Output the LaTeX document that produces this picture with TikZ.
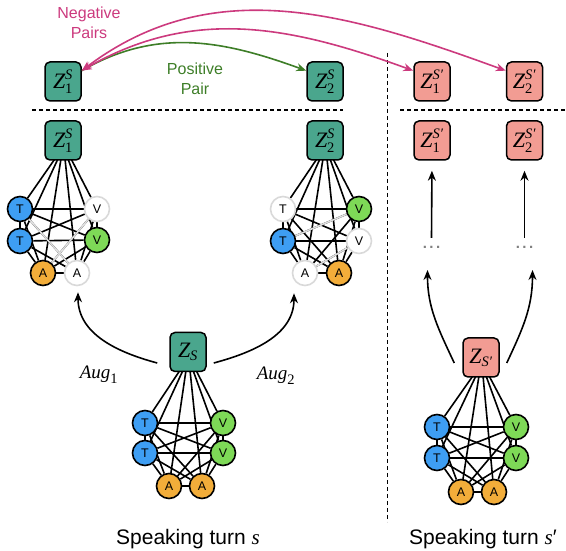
\documentclass[tikz,border=0pt]{standalone}
\usepackage{fontspec}
\setmainfont{Liberation Sans}
\newfontfamily\tms{Liberation Serif}
\usetikzlibrary{arrows.meta,calc}
\pgfdeclarelayer{bg}
\pgfsetlayers{bg,main}
\definecolor{zteal}{HTML}{4AA68D}
\definecolor{zsalmon}{HTML}{F29C93}
\definecolor{nblue}{HTML}{3E9EF3}
\definecolor{ngreen}{HTML}{7ED957}
\definecolor{norange}{HTML}{F2AD3A}
\definecolor{negcol}{HTML}{CC3A7E}
\definecolor{poscol}{HTML}{3E7E28}
\newcommand\tbig[1]{\mbox{\tms\itshape #1}}
\newcommand\tscr[1]{\mbox{\tms\fontsize{14.5}{14.5}\selectfont #1}}
\newcommand\tscri[1]{\mbox{\tms\fontsize{14.5}{14.5}\selectfont\itshape #1}}
\newcommand\zlab[2]{$\tbig{Z}^{\tscri{#1}}_{\tscr{#2}}$}
\newcommand\mygraphedges[2]{%
  \foreach \p/\q in {1/2,1/3,1/4,1/5,1/6,2/3,2/4,2/5,2/6,3/4,3/5,3/6,4/5,4/6,5/6}
    \draw[edge] (#1\p) -- (#1\q);
  \foreach \i/\dx in {1/-8,2/-5,5/-2,6/2,4/5,3/8}
    \draw[edge] ($(#2.south)+(\dx,2)$) -- (#1\i);
}
\begin{document}
\begin{tikzpicture}[x=1pt,y=1pt,
  zbox/.style={draw=black, line width=1.5pt, rounded corners=5pt, minimum width=36pt,
    minimum height=39pt, inner sep=0pt, font=\fontsize{22}{24}\selectfont},
  sbox/.style={zbox, fill=zteal},
  pbox/.style={zbox, fill=zsalmon},
  mnode/.style={circle, draw=black, line width=1.6pt, minimum size=25pt, inner sep=0pt,
    font=\fontsize{12.5}{13}\selectfont},
  tn/.style={mnode, fill=nblue},
  vn/.style={mnode, fill=ngreen},
  an/.style={mnode, fill=norange},
  wn/.style={mnode, draw=gray!30, fill=white},
  edge/.style={line width=1.6pt, black},
  gedge/.style={line width=1.6pt, gray!25},
  arr/.style={line width=1.6pt, -{Stealth[length=10pt,width=8pt]}},
  darr/.style={line width=1.6pt, {Stealth[length=10pt,width=8pt]}-{Stealth[length=10pt,width=8pt]}},
  sep/.style={line width=1.8pt, dash pattern=on 4pt off 3pt},
  dots/.style={text=gray, inner sep=0pt, font=\fontsize{15}{15}\selectfont\bfseries}
]
\useasboundingbox (0,0) rectangle (566,551);

% separators
\draw[sep] (32,441) -- (343,441);
\draw[sep] (400,441) -- (565,441);
\draw[sep] (387.5,498) -- (387.5,29);

% top row
\node[sbox] (zt1) at (63,469.5) {\zlab{S}{1}};
\node[sbox] (zt2) at (325,469.5) {\zlab{S}{2}};
\node[pbox] (zt3) at (432,469.5) {\zlab{S′}{1}};
\node[pbox] (zt4) at (524.5,469.5) {\zlab{S′}{2}};

% second row
\node[sbox] (za) at (63,410.5) {\zlab{S}{1}};
\node[sbox] (zb) at (325,410.5) {\zlab{S}{2}};
\node[pbox] (zc) at (432,410.5) {\zlab{S′}{1}};
\node[pbox] (zd) at (524.5,410.5) {\zlab{S′}{2}};

% lower boxes
\node[sbox] (zs) at (188,199) {$\tbig{Z}_{\tscri{S}}$};
\node[pbox] (zsp) at (481,193.5) {$\tbig{Z}_{\tscri{S′}}$};

% graph a (augmented 1)
\node[tn] (a1) at (20,342) {T};
\node[tn] (a2) at (20,310) {T};
\node[wn] (a3) at (97,342) {V};
\node[vn] (a4) at (97,311) {V};
\node[an] (a5) at (43,278) {A};
\node[wn] (a6) at (77,278) {A};

% graph b (augmented 2)
\node[wn] (b1) at (283,342) {T};
\node[tn] (b2) at (283,310) {T};
\node[vn] (b3) at (359,342) {V};
\node[wn] (b4) at (359,310) {V};
\node[wn] (b5) at (305,278) {A};
\node[an] (b6) at (339,278) {A};

% graph c (speaking turn s)
\node[tn] (c1) at (145,128) {T};
\node[tn] (c2) at (145,98) {T};
\node[vn] (c3) at (223,128) {V};
\node[vn] (c4) at (223,98) {V};
\node[an] (c5) at (169,65) {A};
\node[an] (c6) at (202,65) {A};

% graph d (speaking turn s')
\node[tn] (d1) at (437,124) {T};
\node[tn] (d2) at (437,93) {T};
\node[vn] (d3) at (516,124) {V};
\node[vn] (d4) at (516,93) {V};
\node[an] (d5) at (461,59) {A};
\node[an] (d6) at (494,59) {A};

\begin{pgfonlayer}{bg}
  \mygraphedges{a}{za}
  \draw[gedge] (a1) -- (a6);
  \draw[gedge] (a3) -- (a5);
  \mygraphedges{b}{zb}
  \draw[gedge] (b2) -- (b3);
  \draw[gedge] (b4) -- (b5);
  \mygraphedges{c}{zs}
  \mygraphedges{d}{zsp}
\end{pgfonlayer}

% dots
\node[dots] (dots1) at (431.5,304) {.\,.\,.};
\node[dots] (dots2) at (524.5,304) {.\,.\,.};

% arrows on the right
\draw[arr, shorten >=10pt] ($(dots1.center)+(0,9)$) -- (zc.south);
\draw[arr, shorten >=10pt] ($(dots2.center)+(0,9)$) -- (zd.south);
\draw[arr] ($(zsp.west)+(-8,-5.5)$) to[out=115,in=-90] ($(dots1.center)+(-4,-23)$);
\draw[arr] ($(zsp.east)+(7,-5.5)$) to[out=65,in=-90] ($(dots2.center)+(8,-23)$);

% augmentation arrows
\draw[arr] ($(zs.west)+(-12,-11)$) to[out=165,in=-90] ($(a6.south)+(1,-6)$);
\draw[arr] ($(zs.east)+(7,-11)$) to[out=15,in=-90] ($(b5.south)+(-11,-7)$);
\node[font=\fontsize{19}{22}\selectfont] (aug1) at (99,176) {$\tbig{Aug}_{\tscr{1}}$};
\node[font=\fontsize{19}{22}\selectfont] (aug2) at (276,175) {$\tbig{Aug}_{\tscr{2}}$};

% pair arcs
\draw[arr, poscol] (zt1.30) to[out=30,in=160] (zt2.150);
\draw[darr, negcol] (zt1.30) to[out=30,in=160] (zt3.150);
\draw[darr, negcol] (zt1.30) to[out=37,in=160] (zt4.150);
\node[text=negcol, align=center, font=\fontsize{16}{20}\selectfont] (neg) at (89,528) {Negative\\Pairs};
\node[text=poscol, align=center, font=\fontsize{16}{20}\selectfont] (pos) at (195,472) {Positive\\Pair};

% captions
\node[font=\fontsize{21}{24}\selectfont] (st1) at (188,12) {Speaking turn {\tms\itshape s}};
\node[font=\fontsize{21}{24}\selectfont] (st2) at (483,12) {Speaking turn {\tms\itshape s}′};
\end{tikzpicture}
\end{document}
